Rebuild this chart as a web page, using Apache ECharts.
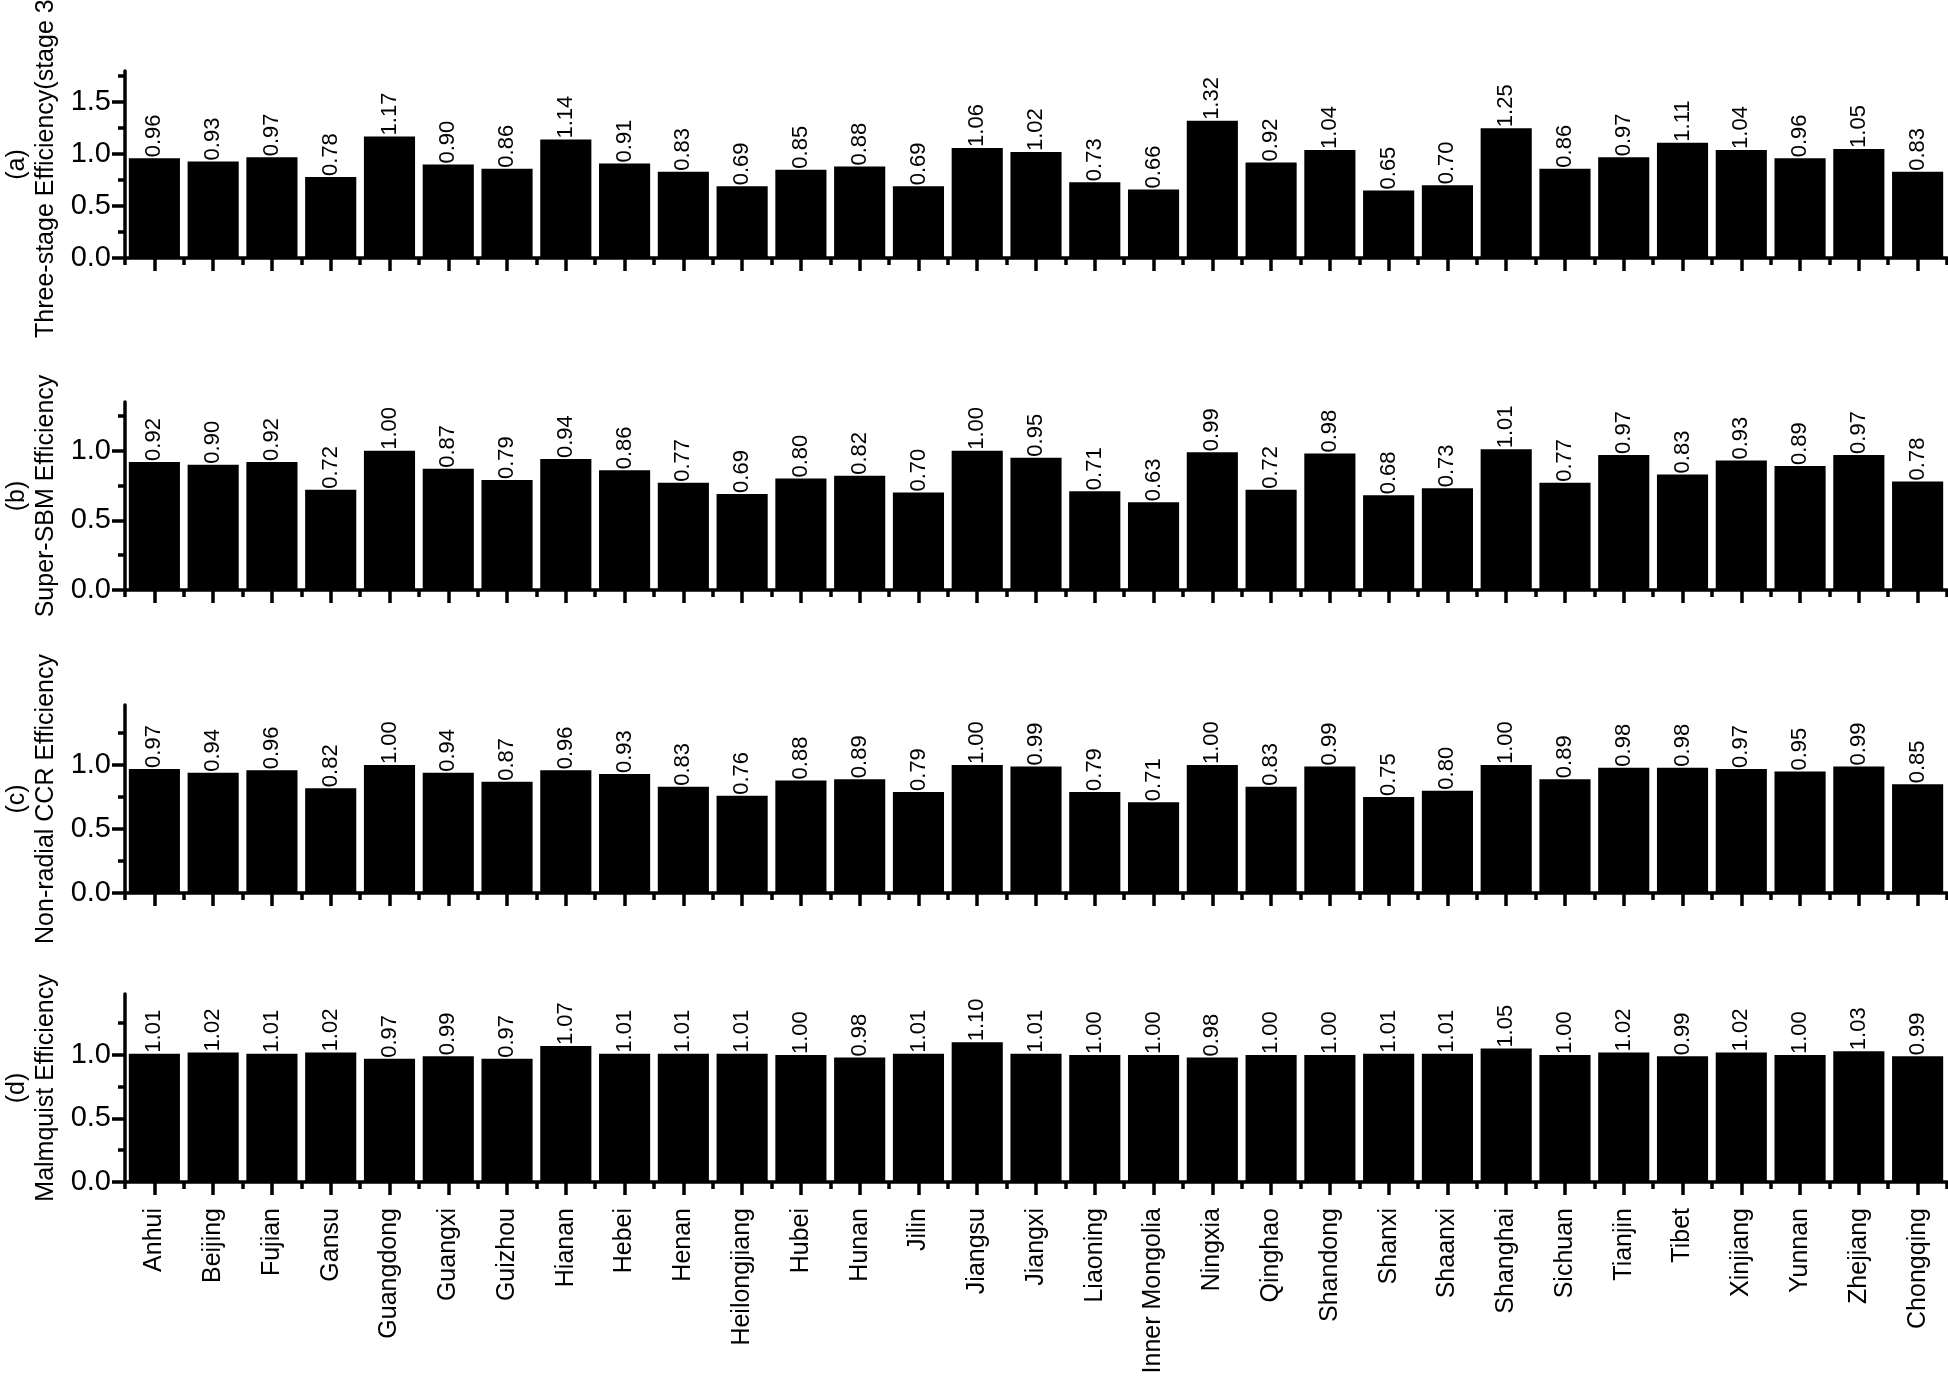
<!DOCTYPE html>
<html>
<head>
<meta charset="utf-8">
<script src="https://cdn.jsdelivr.net/npm/echarts@6/dist/echarts.min.js"></script>
<style>
html,body{margin:0;padding:0;background:#fff;}
#chart{width:1948px;height:1378px;}
</style>
</head>
<body>
<div id="chart"></div>
<script>
const provinces = ["Anhui","Beijing","Fujian","Gansu","Guangdong","Guangxi","Guizhou","Hianan","Hebei","Henan","Heilongjiang","Hubei","Hunan","Jilin","Jiangsu","Jiangxi","Liaoning","Inner Mongolia","Ningxia","Qinghao","Shandong","Shanxi","Shaanxi","Shanghai","Sichuan","Tianjin","Tibet","Xinjiang","Yunnan","Zhejiang","Chongqing"];

const threeStage = [0.96,0.93,0.97,0.78,1.17,0.90,0.86,1.14,0.91,0.83,0.69,0.85,0.88,0.69,1.06,1.02,0.73,0.66,1.32,0.92,1.04,0.65,0.70,1.25,0.86,0.97,1.11,1.04,0.96,1.05,0.83];
const superSBM = [0.92,0.90,0.92,0.72,1.00,0.87,0.79,0.94,0.86,0.77,0.69,0.80,0.82,0.70,1.00,0.95,0.71,0.63,0.99,0.72,0.98,0.68,0.73,1.01,0.77,0.97,0.83,0.93,0.89,0.97,0.78];
const nonRadialCCR = [0.97,0.94,0.96,0.82,1.00,0.94,0.87,0.96,0.93,0.83,0.76,0.88,0.89,0.79,1.00,0.99,0.79,0.71,1.00,0.83,0.99,0.75,0.80,1.00,0.89,0.98,0.98,0.97,0.95,0.99,0.85];
const malmquist = [1.01,1.02,1.01,1.02,0.97,0.99,0.97,1.07,1.01,1.01,1.01,1.00,0.98,1.01,1.10,1.01,1.00,1.00,0.98,1.00,1.00,1.01,1.01,1.05,1.00,1.02,0.99,1.02,1.00,1.03,0.99];

const panelTitles = ["(a)\nThree-stage Efficiency(stage 3)","(b)\nSuper-SBM Efficiency","(c)\nNon-radial CCR Efficiency","(d)\nMalmquist Efficiency"];
const panelMax = [1.8, 1.35, 1.47, 1.48];
const majorTicksA = [0, 0.5, 1.0, 1.5];
const minorTicksA = [0.25, 0.75, 1.25, 1.75];
const majorTicksB = [0, 0.5, 1.0];
const minorTicksB = [0.25, 0.75, 1.25];

const panelData = [threeStage, superSBM, nonRadialCCR, malmquist];
const panelMajor = [majorTicksA, majorTicksB, majorTicksB, majorTicksB];
const panelMinor = [minorTicksA, minorTicksB, minorTicksB, minorTicksB];

const layoutTop = [71, 402, 705, 994];
const layoutH = [187, 188, 188, 188];
const FONT = "'Liberation Sans', Arial, Helvetica, sans-serif";
const LW = 3.5;

const grid = [], xAxis = [], yAxis = [], series = [];
for (let i = 0; i < 4; i++) {
  grid.push({left: 125, right: 1, top: layoutTop[i], height: layoutH[i], outerBoundsMode: 'none', containLabel: false});
  const isLast = i === 3;
  xAxis.push({
    type: 'category', gridIndex: i, data: provinces, position: 'bottom',
    axisLine: {show: true, lineStyle: {color: '#000', width: LW}},
    axisTick: {show: true, alignWithLabel: true, interval: 0, length: 13, lineStyle: {color: '#000', width: LW}},
    axisLabel: {show: isLast, interval: 0, rotate: 90, margin: 26, color: '#000', fontSize: 25, fontFamily: FONT},
    splitLine: {show: false}
  });
  xAxis.push({
    type: 'category', gridIndex: i, data: provinces, position: 'bottom',
    axisLine: {show: false},
    axisTick: {show: true, alignWithLabel: false, interval: 0, length: 7, lineStyle: {color: '#000', width: LW}},
    axisLabel: {show: false},
    splitLine: {show: false}
  });
  yAxis.push({
    type: 'value', gridIndex: i, min: 0, max: panelMax[i], position: 'left',
    axisLine: {show: true, lineStyle: {color: '#000', width: LW}},
    axisTick: {show: true, length: 13, customValues: panelMajor[i], lineStyle: {color: '#000', width: LW}},
    axisLabel: {show: true, customValues: panelMajor[i], margin: 14, color: '#000', fontSize: 29, fontFamily: FONT,
      formatter: v => Number(v).toFixed(1)},
    splitLine: {show: false},
    name: panelTitles[i], nameLocation: 'middle', nameRotate: 90, nameGap: 64, nameMoveOverlap: false,
    nameTextStyle: {color: '#000', fontSize: 25, fontFamily: FONT, lineHeight: 29, align: 'center'}
  });
  yAxis.push({
    type: 'value', gridIndex: i, min: 0, max: panelMax[i], position: 'left', offset: 0,
    axisLine: {show: false},
    axisTick: {show: true, length: 7, customValues: panelMinor[i], lineStyle: {color: '#000', width: LW}},
    axisLabel: {show: false},
    splitLine: {show: false}
  });
  series.push({
    type: 'bar', xAxisIndex: i * 2, yAxisIndex: i * 2, data: panelData[i],
    barCategoryGap: '13%',
    itemStyle: {color: '#000'},
    label: {show: true, position: 'top', distance: 1, rotate: 90, align: 'left', verticalAlign: 'middle',
      color: '#000', fontSize: 22, fontFamily: FONT, formatter: p => p.value.toFixed(2)},
    animation: false
  });
}

const chart = echarts.init(document.getElementById('chart'), null, {renderer: 'canvas'});
chart.setOption({animation: false, backgroundColor: '#fff', grid, xAxis, yAxis, series});
</script>
</body>
</html>
